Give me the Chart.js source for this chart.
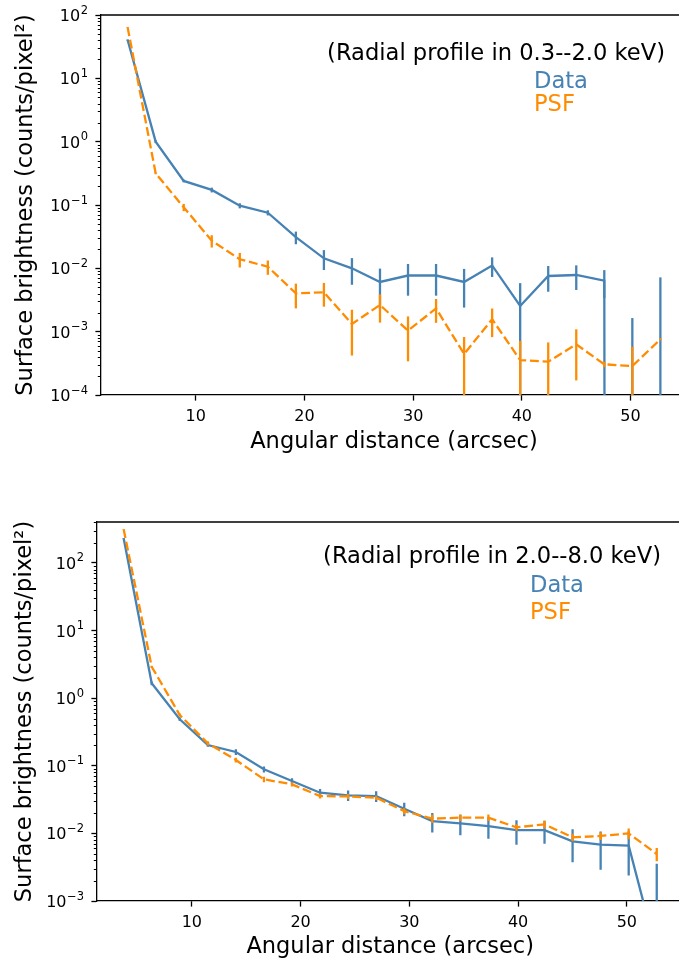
<!DOCTYPE html>
<html><head><meta charset="utf-8">
<script src="https://cdn.jsdelivr.net/npm/chart.js@4/dist/chart.umd.min.js"></script>
<style>
html,body{margin:0;padding:0;background:#fff;overflow:hidden;width:679px;height:965px;}
#top{position:absolute;left:0;top:0;}
#bot{position:absolute;left:0;top:482px;}
</style></head><body>
<canvas id="top" width="690" height="480"></canvas>
<canvas id="bot" width="690" height="483"></canvas>
<script>
// ---- data (angular bins in arcsec) ----
const xBins = [3.73, 6.31, 8.89, 11.47, 14.05, 16.63, 19.21, 21.79, 24.37, 26.95,
               29.53, 32.11, 34.69, 37.27, 39.85, 42.43, 45.01, 47.59, 50.17, 52.75];
const xTicks = [10, 20, 30, 40, 50];
const xTickLabels = ['10', '20', '30', '40', '50'];

// 0.3--2.0 keV
const softData    = [40.3, 1.0, 0.24, 0.173, 0.0975, 0.0755, 0.031, 0.0144, 0.0100, 0.0061,
                     0.0077, 0.0077, 0.0061, 0.0111, 0.00254, 0.00757, 0.00785, 0.00638, 0, 0];
const softDataErr = [1.0, 0.05, 0.012, 0.015, 0.009, 0.007, 0.007, 0.005, 0.0045, 0.0038,
                     0.004, 0.004, 0.0037, 0.0038, 0.0033, 0.0033, 0.0033, 0.003, 0.00164, 0.0072];
const softPsf     = [63.8, 0.316, 0.092, 0.0273, 0.0139, 0.0106, 0.00403, 0.00418, 0.00132, 0.00264,
                     0.00104, 0.00233, 0.000444, 0.00157, 0.000356, 0.000336, 0.00063, 0.000305, 0.000287, 0.000757];
const softPsfErr  = [1.0, 0.01, 0.012, 0.006, 0.0036, 0.0027, 0.0017, 0.0017, 0.0009, 0.00125,
                     0.0007, 0.00095, 0.00038, 0.00075, 0.00036, 0.00034, 0.00046, 0.00003, 0.00029, 0.00003];
const softYTicks = [1e-4, 1e-3, 1e-2, 1e-1, 1e0, 1e1, 1e2];
const softYTickExps = ['−4', '−3', '−2', '−1', '0', '1', '2'];

// 2.0--8.0 keV
const hardData    = [232, 1.66, 0.488, 0.203, 0.16, 0.0887, 0.0596, 0.04, 0.0366, 0.0357,
                     0.0232, 0.0152, 0.0141, 0.01285, 0.0112, 0.0112, 0.00764, 0.0068, 0.00658, 0.00017];
const hardDataErr = [3, 0.1, 0.03, 0.012, 0.016, 0.009, 0.006, 0.0055, 0.0065, 0.0065,
                     0.0052, 0.0049, 0.0047, 0.0045, 0.0044, 0.0042, 0.0039, 0.0039, 0.0042, 0.0034];
const hardPsf     = [315, 2.92, 0.564, 0.215, 0.122, 0.063, 0.0532, 0.0357, 0.0352, 0.0337,
                     0.0214, 0.0165, 0.0171, 0.0171, 0.0123, 0.0136, 0.00875, 0.00916, 0.01, 0.00496];
const hardPsfErr  = [3, 0.1, 0.03, 0.015, 0.01, 0.006, 0.004, 0.003, 0.003, 0.0025,
                     0.0022, 0.0023, 0.0019, 0.0019, 0.0014, 0.0018, 0.0011, 0.0012, 0.0018, 0.0011];
const hardYTicks = [1e-3, 1e-2, 1e-1, 1e0, 1e1, 1e2];
const hardYTickExps = ['−3', '−2', '−1', '0', '1', '2'];

// ---- styling ----
const BLUE = '#4682B4', ORANGE = '#FF8C00';
const LW = 2.3, FONT = "'DejaVu Sans'";
Chart.defaults.font.family = FONT;
Chart.defaults.color = '#000';

// matplotlib-like clipping of non-positive values on a log axis
const logClip = v => (v > 0 ? v : 1e-300);

const errorBarPlugin = {
  id: 'errbars',
  afterDatasetDraw(chart, args) {
    const ds = chart.data.datasets[args.index];
    if (!ds.errors) return;
    const {ctx, chartArea: a, scales: {x, y}} = chart;
    ctx.save();
    ctx.beginPath(); ctx.rect(a.left, a.top, a.right - a.left, a.bottom - a.top); ctx.clip();
    ctx.strokeStyle = ds.borderColor; ctx.lineWidth = LW; ctx.setLineDash([]);
    ds.raw.forEach((v, i) => {
      const e = ds.errors[i];
      const hi = v + e, lo = v - e;
      const px = x.getPixelForValue(xBins[i]);
      const pHi = hi > 0 ? y.getPixelForValue(hi) : a.bottom + 10;
      const pLo = lo > 0 ? y.getPixelForValue(lo) : a.bottom + 10;
      ctx.beginPath(); ctx.moveTo(px, pHi); ctx.lineTo(px, pLo); ctx.stroke();
    });
    ctx.restore();
  }
};

const framePlugin = {
  id: 'frame',
  afterDraw(chart, args, o) {
    const {ctx, chartArea: a, scales: {y}} = chart;
    ctx.save();
    ctx.strokeStyle = '#000'; ctx.lineWidth = 1.3;
    ctx.beginPath(); ctx.moveTo(a.left, a.top); ctx.lineTo(a.right, a.top); ctx.lineTo(a.right, a.bottom); ctx.stroke();
    // minor log ticks
    ctx.lineWidth = 1;
    const n0 = Math.floor(Math.log10(y.min)), n1 = Math.ceil(Math.log10(y.max));
    for (let n = n0; n <= n1; n++) {
      for (let k = 2; k <= 9; k++) {
        const v = k * Math.pow(10, n);
        if (v <= y.min || v >= y.max) continue;
        const py = Math.round(y.getPixelForValue(v)) + 0.5;
        ctx.beginPath(); ctx.moveTo(a.left - 3.2, py); ctx.lineTo(a.left, py); ctx.stroke();
      }
    }
    // decade tick labels, 10 with superscript exponent
    ctx.fillStyle = '#000';
    ctx.textBaseline = 'alphabetic';
    ctx.textAlign = 'left';
    o.ticks.forEach((v, i) => {
      const py = y.getPixelForValue(v);
      const exp = o.exps[i];
      ctx.font = `11.5px ${FONT}`;
      const we = ctx.measureText(exp).width;
      ctx.font = `16px ${FONT}`;
      const wb = ctx.measureText('10').width;
      const right = a.left - 13;
      const x0 = right - we - wb - 0.5;
      ctx.fillText('10', x0, py + 6);
      ctx.font = `11.5px ${FONT}`;
      ctx.fillText(exp, x0 + wb + 0.5, py - 1.5);
    });
    ctx.restore();
  }
};

const annotPlugin = {
  id: 'annot',
  afterDraw(chart, args, o) {
    const {ctx} = chart;
    ctx.save();
    ctx.font = `22.6px ${FONT}`;
    ctx.textBaseline = 'alphabetic';
    ctx.textAlign = 'right'; ctx.fillStyle = '#000';
    ctx.fillText(o.title, o.titleRight, o.titleBase);
    ctx.textAlign = 'left';
    ctx.fillStyle = BLUE; ctx.fillText('Data', o.legLeft, o.dataBase);
    ctx.fillStyle = ORANGE; ctx.fillText('PSF', o.legLeft, o.psfBase);
    ctx.restore();
  }
};

function buildChart(id, o) {
  const axisGrid = {drawOnChartArea: false, drawTicks: true, tickLength: 5.6, tickColor: '#000', tickWidth: 1.3};
  const axisBorder = {display: true, color: '#000', width: 1.3};
  return new Chart(document.getElementById(id), {
    type: 'line',
    data: {
      datasets: [
        {label: 'Data', data: xBins.map((x, i) => ({x, y: logClip(o.data[i])})), raw: o.data, errors: o.dataErr,
         borderColor: BLUE, borderWidth: LW, pointRadius: 0, tension: 0, fill: false, order: 2},
        {label: 'PSF', data: xBins.map((x, i) => ({x, y: logClip(o.psf[i])})), raw: o.psf, errors: o.psfErr,
         borderColor: ORANGE, borderWidth: LW, borderDash: [8.9, 3.8], pointRadius: 0, tension: 0, fill: false, order: 1}
      ]
    },
    options: {
      responsive: false, animation: false, devicePixelRatio: 1,
      layout: {padding: {top: o.padTop, right: o.padRight, left: 0, bottom: 0}},
      plugins: {legend: {display: false}, tooltip: {enabled: false}, annot: o.annot,
                frame: {ticks: o.yTicks, exps: o.yTickExps}},
      scales: {
        x: {
          type: 'linear', min: 1.28, max: 55.2,
          afterBuildTicks: s => { s.ticks = xTicks.map(v => ({value: v})); },
          afterFit: s => { s.height = o.xAxisH; },
          ticks: {autoSkip: false, maxRotation: 0, font: {size: 16}, color: '#000', padding: o.xTickPad,
                  callback: (v, i) => xTickLabels[i]},
          grid: axisGrid, border: axisBorder,
          title: {display: true, text: 'Angular distance (arcsec)', font: {size: 22.5}, color: '#000',
                  padding: {top: 0, bottom: o.xTitlePad}}
        },
        y: {
          type: 'logarithmic', min: o.yMin, max: o.yMax,
          afterBuildTicks: s => { s.ticks = o.yTicks.map(v => ({value: v})); },
          afterFit: s => { s.width = o.yAxisW; },
          ticks: {display: false},
          grid: axisGrid, border: axisBorder,
          title: {display: true, text: 'Surface brightness (counts/pixel²)', font: {size: 22.5}, color: '#000',
                  padding: {top: o.yTitlePad, bottom: 0}}
        }
      }
    },
    plugins: [errorBarPlugin, framePlugin, annotPlugin]
  });
}

buildChart('top', {
  data: softData, dataErr: softDataErr, psf: softPsf, psfErr: softPsfErr,
  yMin: 1e-4, yMax: 1e2, yTicks: softYTicks, yTickExps: softYTickExps,
  padTop: 15, padRight: 3, xAxisH: 85, yAxisW: 101, xTickPad: 7, xTitlePad: 24, yTitlePad: 13,
  annot: {title: '(Radial profile in 0.3--2.0 keV)', titleRight: 665, titleBase: 60, legLeft: 534, dataBase: 88, psfBase: 111}
});
buildChart('bot', {
  data: hardData, dataErr: hardDataErr, psf: hardPsf, psfErr: hardPsfErr,
  yMin: 1e-3, yMax: 404, yTicks: hardYTicks, yTickExps: hardYTickExps,
  padTop: 40, padRight: 6.6, xAxisH: 64, yAxisW: 97, xTickPad: 7, xTitlePad: 4, yTitlePad: 12,
  annot: {title: '(Radial profile in 2.0--8.0 keV)', titleRight: 661, titleBase: 81, legLeft: 530, dataBase: 110, psfBase: 137}
});
</script>
</body></html>
